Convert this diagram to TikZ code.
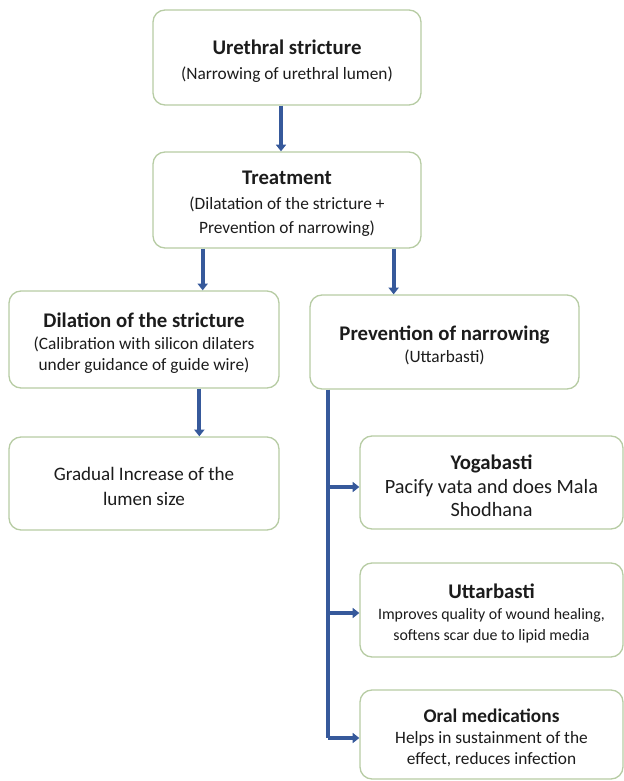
\documentclass[tikz,border=0pt]{standalone}
\usepackage{fontspec}
\setmainfont{Carlito}
\usetikzlibrary{positioning,calc,arrows.meta}

\definecolor{boxline}{HTML}{B7CCA4}
\definecolor{arrowblue}{HTML}{36599B}
\definecolor{inktext}{HTML}{1C1C1C}

\tikzset{
  stepbox/.style={draw=boxline,line width=1pt,rounded corners=9pt,fill=white,
    align=center,inner sep=0pt,text=inktext},
  flow/.style={draw=arrowblue,line width=3pt,-{Triangle[length=5pt,width=7.5pt]}},
  spine/.style={draw=arrowblue,line width=3pt}
}
\newcommand{\ttl}[1]{{\fontsize{15.6}{18}\selectfont\bfseries\rule{0pt}{16pt}#1}}
\newcommand{\fsz}[2]{\fontsize{#1}{#2}\selectfont}

\begin{document}
\begin{tikzpicture}[x=0.75pt,y=-0.75pt]
  \useasboundingbox (0,0) rectangle (624,781);

  % boxes
  \begin{scope}[every node/.style={stepbox}]
    \node (ure) [minimum width=201pt,minimum height=71.25pt,font=\fsz{13}{18.5}]
      at (287,57.5)
      {\ttl{Urethral stricture}\\ (Narrowing of urethral lumen)};
    \node (treat) [minimum width=201pt,minimum height=72pt,font=\fsz{13}{18}]
      at (287,200)
      {\ttl{Treatment}\\[1pt] (Dilatation of the stricture +\\ Prevention of narrowing)};
    \node (dil) [minimum width=202.5pt,minimum height=72.75pt,font=\fsz{13}{15.5}]
      at (144,339.5)
      {\ttl{Dilation of the stricture}\\[1pt] (Calibration with silicon dilaters\\
       under guidance of guide wire)};
    \node (prev) [minimum width=201.75pt,minimum height=70.5pt,font=\fsz{13}{16.5}]
      at (444.5,342)
      {\ttl{Prevention of narrowing}\\ (Uttarbasti)};
    \node (grad) [minimum width=202.5pt,minimum height=69.75pt,font=\fsz{14.3}{18.7}]
      at (144,483.5)
      {\rule{0pt}{15pt}Gradual Increase of the\\ lumen size};
    \node (yoga) [minimum width=197.25pt,minimum height=69.75pt,font=\fsz{15.2}{17.5}]
      at (491.5,482.5)
      {\ttl{Yogabasti}\\ Pacify vata and does Mala\\ Shodhana};
    \node (utt) [minimum width=197.25pt,minimum height=70.5pt,font=\fsz{11.9}{16}]
      at (491.5,610)
      {\ttl{Uttarbasti}\\ Improves quality of wound healing,\\ softens scar due to lipid media};
    \node (oral) [minimum width=197.25pt,minimum height=66.75pt,font=\fsz{13}{16}]
      at (491.5,734.5)
      {{\fontsize{14.5}{18}\selectfont\bfseries\rule{0pt}{15pt}Oral medications}\\
       Helps in sustainment of the\\ effect, reduces infection};
  \end{scope}

  % connectors
  \coordinate (tl) at ($(treat.south west)!.187!(treat.south east)$);
  \coordinate (tr) at ($(treat.south west)!.896!(treat.south east)$);
  \coordinate (dl) at ($(dil.south west)+(191,0)$);
  \coordinate (sp) at ($(prev.south west)+(19,0)$);
  \coordinate (spend) at ($(sp |- oral.west)+(0,3.5)$);

  \draw[flow] ($(ure.south)+(-6,0)$) -- ($(treat.north)+(-6,0)$);
  \draw[flow] (tl) -- (tl |- dil.north);
  \draw[flow] (tr) -- (tr |- prev.north);
  \draw[flow] (dl) -- (dl |- grad.north);

  \draw[spine] (sp) -- (spend);
  \draw[flow] (sp |- yoga.west) ++(0,4.5) -- ($(yoga.west)+(0,4.5)$);
  \draw[flow] (sp |- utt.west) ++(0,3) -- ($(utt.west)+(0,3)$);
  \draw[flow] (spend) -- (spend -| oral.west);

\end{tikzpicture}
\end{document}
